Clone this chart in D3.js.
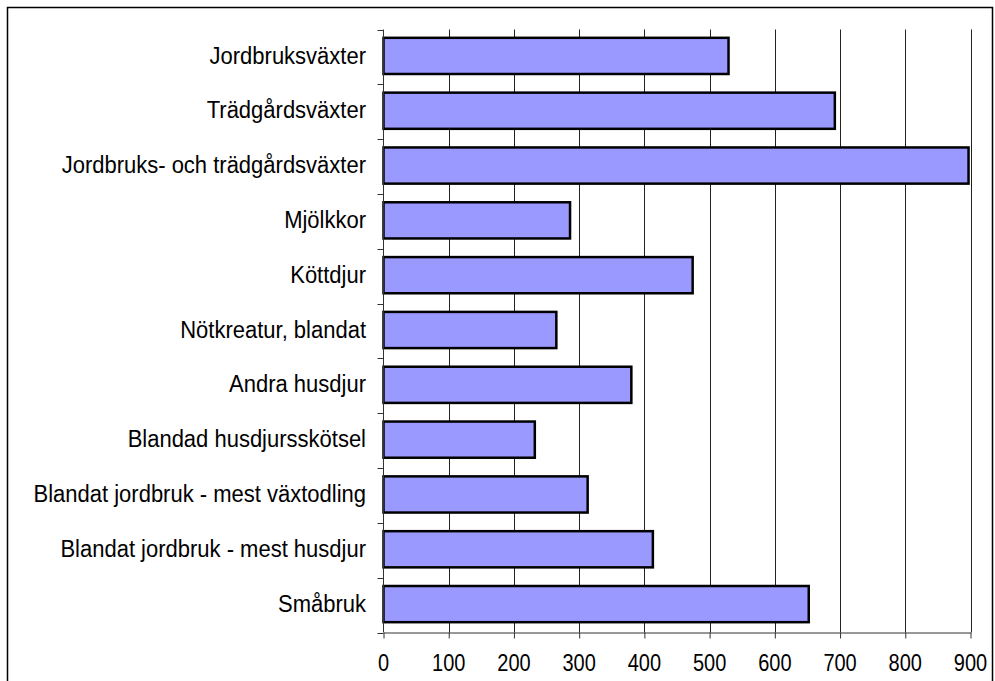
<!DOCTYPE html>
<html>
<head>
<meta charset="utf-8">
<script src="https://cdn.jsdelivr.net/npm/d3@7"></script>
<style>
  html, body { margin: 0; padding: 0; background: #fff; }
  svg { display: block; }
  text { font-family: "Liberation Sans", Arial, sans-serif; fill: #000; }
</style>
</head>
<body>
<svg id="chart" width="995" height="681"></svg>
<script>
const categories = [
  "Jordbruksväxter",
  "Trädgårdsväxter",
  "Jordbruks- och trädgårdsväxter",
  "Mjölkkor",
  "Köttdjur",
  "Nötkreatur, blandat",
  "Andra husdjur",
  "Blandad husdjursskötsel",
  "Blandat jordbruk - mest växtodling",
  "Blandat jordbruk - mest husdjur",
  "Småbruk"
];
const values = [529, 692, 897, 286, 474, 265, 380, 232, 313, 413, 652];
const xTicks = [0, 100, 200, 300, 400, 500, 600, 700, 800, 900];

const svg = d3.select("#chart");
const plot = { left: 383.5, right: 970.5, top: 29.5, bottom: 632.5 };

// outer border
svg.append("rect")
  .attr("x", 7.5).attr("y", 7.5)
  .attr("width", 985).attr("height", 700)
  .attr("fill", "none").attr("stroke", "#000").attr("stroke-width", 1.5);

const x = d3.scaleLinear().domain([0, 900]).range([plot.left, plot.right]);
const y = d3.scaleBand().domain(categories).range([plot.top, plot.bottom]).padding(0);

// gridlines
svg.append("g").selectAll("line")
  .data(xTicks.filter(d => d > 0))
  .join("line")
  .attr("x1", d => Math.round(x(d)) + 0.5).attr("x2", d => Math.round(x(d)) + 0.5)
  .attr("y1", plot.top).attr("y2", plot.bottom)
  .attr("stroke", "#222").attr("stroke-width", 1);

// bars
const barFrac = 0.66;
svg.append("g").selectAll("rect")
  .data(categories.map((c, i) => ({ c, v: values[i] })))
  .join("rect")
  .attr("x", x(0))
  .attr("y", d => y(d.c) + y.bandwidth() * (1 - barFrac) / 2 - 1)
  .attr("width", d => x(d.v) - x(0))
  .attr("height", y.bandwidth() * barFrac)
  .attr("fill", "#9999FF")
  .attr("stroke", "#000")
  .attr("stroke-width", 2.5);

// y axis
const yAxis = svg.append("g");
yAxis.append("line")
  .attr("x1", plot.left).attr("x2", plot.left)
  .attr("y1", plot.top).attr("y2", plot.bottom)
  .attr("stroke", "#333").attr("stroke-width", 1);
const bounds = categories.map(c => y(c)).concat([plot.bottom]);
yAxis.selectAll("line.tick")
  .data(bounds)
  .join("line").attr("class", "tick")
  .attr("x1", plot.left - 6).attr("x2", plot.left)
  .attr("y1", d => Math.round(d) + 0.5).attr("y2", d => Math.round(d) + 0.5)
  .attr("stroke", "#333").attr("stroke-width", 1);
yAxis.selectAll("text")
  .data(categories)
  .join("text")
  .attr("transform", d => `translate(366,${y(d) + y.bandwidth() / 2 - 1}) scale(1,1.05)`)
  .attr("text-anchor", "end")
  .attr("dominant-baseline", "central")
  .attr("font-size", 22)
  .text(d => d);

// x axis
const xAxis = d3.axisBottom(x).tickValues(xTicks).tickSize(6).tickSizeOuter(0).tickFormat("");
const gx = svg.append("g")
  .attr("transform", `translate(0,${plot.bottom})`)
  .call(xAxis);
gx.select(".domain").attr("stroke", "#333");
gx.selectAll(".tick line").attr("stroke", "#333");
svg.append("g").selectAll("text")
  .data(xTicks)
  .join("text")
  .attr("transform", d => `translate(${x(d)},663) scale(1,1.2)`)
  .attr("text-anchor", "middle")
  .attr("dominant-baseline", "central")
  .attr("font-size", 20)
  .text(d => d);
</script>
</body>
</html>
